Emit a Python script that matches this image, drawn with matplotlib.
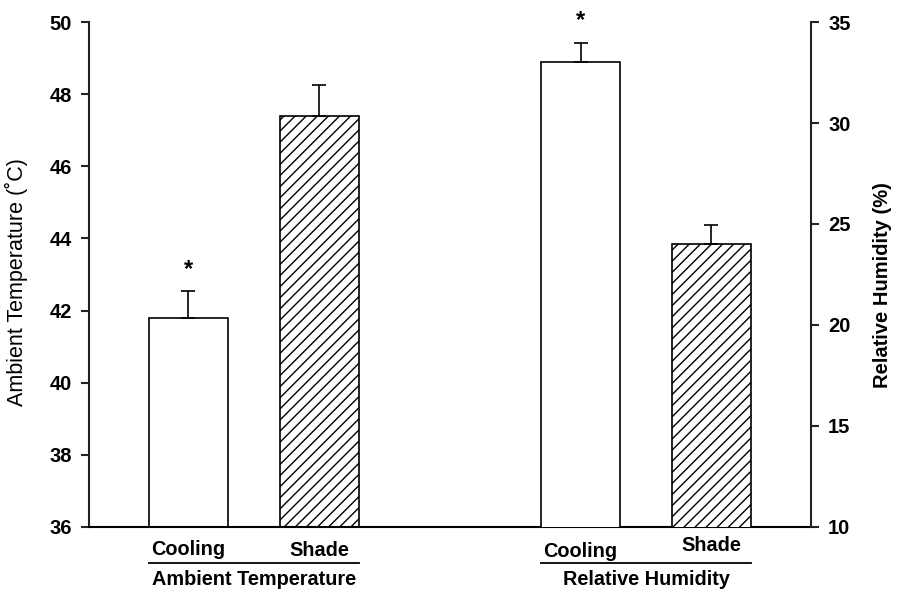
import matplotlib.pyplot as plt
from matplotlib.lines import Line2D

plt.rcParams['font.family'] = ['Liberation Sans', 'DejaVu Sans']
plt.rcParams['hatch.linewidth'] = 1.0

# Means and standard errors
temp_groups = ["Cooling", "Shade"]
temp_mean = [41.8, 47.4]
temp_se = [0.75, 0.85]

rh_groups = ["Cooling", "Shade"]
rh_mean = [33.0, 24.0]
rh_se = [0.95, 0.95]

temp_ticks = [36, 38, 40, 42, 44, 46, 48, 50]
rh_ticks = [10, 15, 20, 25, 30, 35]

temp_pos = [0, 1]
rh_pos = [3, 4]
width = 0.605

fig = plt.figure(figsize=(9.01, 5.90), dpi=100)
ax = fig.add_axes([0.0988, 0.1068, 0.8011, 0.8559])
ax2 = ax.twinx()

hatches = [None, '///']
for i in range(2):
    ax.bar(temp_pos[i], temp_mean[i], width, bottom=0, color='white',
           edgecolor='black', linewidth=1.2, hatch=hatches[i], zorder=2)
    ax.errorbar(temp_pos[i], temp_mean[i], yerr=[[0], [temp_se[i]]], fmt='none',
                ecolor='black', elinewidth=1.2, capsize=5, capthick=1.2, zorder=3)
    ax2.bar(rh_pos[i], rh_mean[i], width, bottom=0, color='white',
            edgecolor='black', linewidth=1.2, hatch=hatches[i], zorder=2)
    ax2.errorbar(rh_pos[i], rh_mean[i], yerr=[[0], [rh_se[i]]], fmt='none',
                 ecolor='black', elinewidth=1.2, capsize=5, capthick=1.2, zorder=3)

# significance markers
ax.text(temp_pos[0], temp_mean[0] + temp_se[0] + 0.6, '*', ha='center', va='center',
        fontsize=17, fontweight='bold')
ax2.text(rh_pos[0], rh_mean[0] + rh_se[0] + 1.1, '*', ha='center', va='center',
         fontsize=17, fontweight='bold', clip_on=False)

ax.set_xlim(-0.76, 4.76)
ax.set_ylim(36, 50)
ax2.set_ylim(10, 35)
ax.set_yticks(temp_ticks)
ax2.set_yticks(rh_ticks)
ax.set_xticks([])

for a in (ax, ax2):
    a.spines['top'].set_visible(False)
    a.tick_params(axis='y', length=6, width=1.5, labelsize=14.5, pad=6.5,
                  color='#222222')
    for lab in a.get_yticklabels():
        lab.set_fontweight('bold')
ax.spines['right'].set_visible(False)
ax2.spines['left'].set_visible(False)
ax2.spines['bottom'].set_visible(False)
for s in ('left', 'bottom'):
    ax.spines[s].set_linewidth(1.5)
ax2.spines['right'].set_linewidth(1.5)
ax.spines['left'].set_color('#222222')
ax2.spines['right'].set_color('#222222')

ax.set_ylabel('Ambient Temperature (˚C)', fontsize=15.5, labelpad=8)
ax.yaxis.set_label_coords(-0.084, 0.485)
ax2.set_ylabel('Relative Humidity (%)', fontsize=14.5, fontweight='semibold',
               labelpad=14)
ax2.yaxis.set_label_coords(1.086, 0.48)

# category and group labels below the axis
tr = ax.get_xaxis_transform()
def group_labels(pos, names, title, offsets):
    for p, n, dy in zip(pos, names, offsets):
        ax.text(p, -0.044 + dy, n, transform=tr, ha='center', va='center',
                fontsize=14.3, fontweight='bold')
    ax.add_line(Line2D([pos[0] - width / 2, pos[1] + width / 2], [-0.071, -0.071],
                       transform=tr, color='black', linewidth=1.3, clip_on=False))
    ax.text((pos[0] + pos[1]) / 2, -0.103, title, transform=tr, ha='center', va='center',
            fontsize=14.3, fontweight='bold')

group_labels(temp_pos, temp_groups, 'Ambient Temperature', [0.0, -0.002])
group_labels(rh_pos, rh_groups, 'Relative Humidity', [-0.004, 0.008])

fig.savefig('out.png', dpi=100)
